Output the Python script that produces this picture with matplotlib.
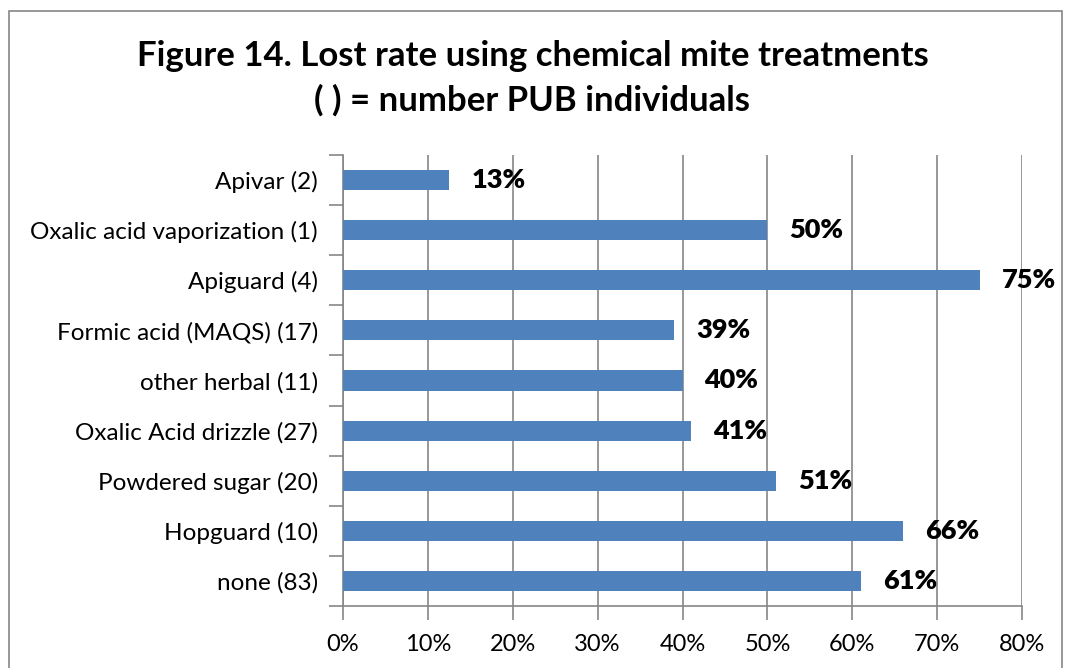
import matplotlib
matplotlib.use("Agg")
import matplotlib.pyplot as plt
from matplotlib.patches import Rectangle

plt.rcParams['font.family'] = ['Lato', 'DejaVu Sans']

categories = ['Apivar (2)', 'Oxalic acid vaporization (1)', 'Apiguard (4)',
              'Formic acid (MAQS) (17)', 'other herbal (11)', 'Oxalic Acid drizzle (27)',
              'Powdered sugar (20)', 'Hopguard (10)', 'none (83)']
loss_rate = [0.125, 0.50, 0.75, 0.39, 0.40, 0.41, 0.51, 0.66, 0.61]
value_labels = ['13%', '50%', '75%', '39%', '40%', '41%', '51%', '66%', '61%']
x_ticks = [0, 0.1, 0.2, 0.3, 0.4, 0.5, 0.6, 0.7, 0.8]

fig = plt.figure(figsize=(10.65, 6.68), dpi=100)
ax = fig.add_axes([343/1065, 1 - 606/668, (1022-343)/1065, (606-155)/668])

grid_col = '#868686'
ypos = list(range(len(categories)))[::-1]
ax.barh(ypos, loss_rate, height=0.4, color='#4f81bd', zorder=3)
for y, v, lab in zip(ypos, loss_rate, value_labels):
    ax.text(v + 0.026, y, lab, va='center', ha='left', fontsize=19.5,
            fontweight='heavy', zorder=4)

ax.set_xlim(0, 0.8)
ax.set_ylim(-0.5, len(categories) - 0.5)
ax.set_xticks(x_ticks)
ax.set_xticklabels([f'{int(round(t*100))}%' for t in x_ticks], fontsize=17)
ax.set_yticks(ypos)
ax.set_yticklabels(categories, fontsize=17.5)
ax.set_yticks([i - 0.5 for i in range(len(categories) + 1)], minor=True)
ax.tick_params(axis='y', which='major', length=0, pad=18)
ax.tick_params(axis='y', which='minor', length=10, color=grid_col, width=1.2)
ax.tick_params(axis='x', length=10, color=grid_col, width=1.2, pad=10)
ax.xaxis.grid(True, color=grid_col, linewidth=1.2, zorder=0)
for s in ['top', 'right']:
    ax.spines[s].set_visible(False)
for s in ['left', 'bottom']:
    ax.spines[s].set_color(grid_col)
    ax.spines[s].set_linewidth(1.2)

fig.text(0.5, 1 - 78/668, 'Figure 14. Lost rate using chemical mite treatments\n( ) = number PUB individuals',
         ha='center', va='center', fontsize=25, fontweight='bold', linespacing=1.45)

fig.patches.append(Rectangle((9/1065, -0.01), (1062-9)/1065, 1 - 11/668 + 0.01,
                             transform=fig.transFigure, fill=False,
                             edgecolor='#868686', linewidth=1.2))

fig.savefig('out.png', dpi=100)
